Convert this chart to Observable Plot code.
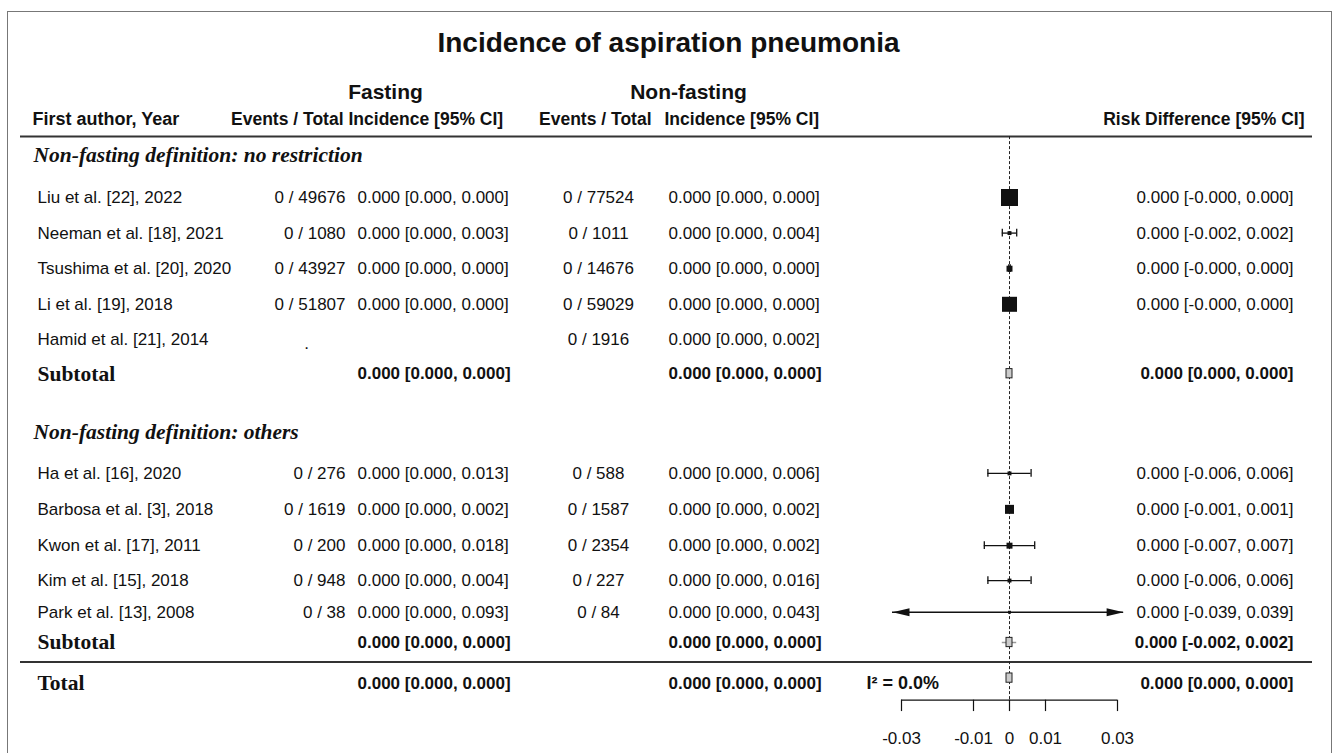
<!DOCTYPE html>
<html>
<head>
<meta charset="utf-8">
<script src="https://cdn.jsdelivr.net/npm/d3@7"></script>
<script src="https://cdn.jsdelivr.net/npm/@observablehq/plot@0.6"></script>
<style>
  html, body { margin: 0; padding: 0; background: #fff; }
  #wrap { position: relative; width: 1335px; height: 753px; overflow: hidden; }
  #frame { position: absolute; left: 7px; top: 11px; width: 1323px; height: 800px; border: 1.5px solid #777; pointer-events: none; }
</style>
</head>
<body>
<div id="wrap"><div id="frame"></div></div>
<script>
// ---------------- DATA ----------------
const title = "Incidence of aspiration pneumonia";
const arms = ["Fasting", "Non-fasting"];
const groupLabels = ["Non-fasting definition: no restriction", "Non-fasting definition: others"];
const studies = ["Liu et al. [22], 2022", "Neeman et al. [18], 2021", "Tsushima et al. [20], 2020",
  "Li et al. [19], 2018", "Hamid et al. [21], 2014", "Ha et al. [16], 2020", "Barbosa et al. [3], 2018",
  "Kwon et al. [17], 2011", "Kim et al. [15], 2018", "Park et al. [13], 2008"];
const studyGroup = [0, 0, 0, 0, 0, 1, 1, 1, 1, 1];
const fastEvents = [0, 0, 0, 0, null, 0, 0, 0, 0, 0];
const fastTotals = [49676, 1080, 43927, 51807, null, 276, 1619, 200, 948, 38];
const fastUpper  = [0.000, 0.003, 0.000, 0.000, null, 0.013, 0.002, 0.018, 0.004, 0.093];
const nonEvents  = [0, 0, 0, 0, 0, 0, 0, 0, 0, 0];
const nonTotals  = [77524, 1011, 14676, 59029, 1916, 588, 1587, 2354, 227, 84];
const nonUpper   = [0.000, 0.004, 0.000, 0.000, 0.002, 0.006, 0.002, 0.002, 0.016, 0.043];
const rdEst      = [0, 0, 0, 0, null, 0, 0, 0, 0, 0];
const rdLower    = [-0.0002, -0.002, -0.0002, -0.0002, null, -0.006, -0.001, -0.007, -0.006, -0.039];
const rdUpper    = [0.0002, 0.002, 0.0002, 0.0002, null, 0.006, 0.001, 0.007, 0.006, 0.039];
const weights    = [30, 1.6, 3.7, 23.4, null, 1.6, 8.4, 3.7, 1.6, 0.9];
// subtotals (per group) and total: [estimate, lower, upper]
const subFast = [[0, 0, 0], [0, 0, 0]];
const subNon  = [[0, 0, 0], [0, 0, 0]];
const subRD   = [[0, 0, 0], [0, -0.002, 0.002]];
const totFast = [0, 0, 0];
const totNon  = [0, 0, 0];
const totRD   = [0, 0, 0];
const i2 = 0.0;
const axisTicks = [-0.03, -0.01, 0, 0.01, 0.03];
const xLimits = [-0.0325, 0.0317];   // plotting limits (arrows beyond)

// ---------------- LAYOUT (row units) ----------------
const L = {
  title: -4.35, arms: -2.95, header: -2.2, headerRule: -1.71,
  groupLabel: [-1.2, 6.6],
  studies: [0, 1, 2, 3, 4, 7.75, 8.76, 9.78, 10.76, 11.65],
  subtotal: [4.95, 12.5], totalRule: 13.05, total: 13.65, totalMark: 13.5, axis: 14.12, axisLabel: 15.2
};
const ML = 20;                       // left margin (frame left)
const col = px => px - ML;           // column offsets from frame left
const C = { label: 37, fEv: 345, fInc: 357, nEv: 598, nInc: 668, rd: 1293, i2: 866, arm: [385, 688] };

const f3 = v => (v < 0 ? "-" : "") + Math.abs(v).toFixed(3);
const ci = (e, l, u) => `${f3(e)} [${f3(l)}, ${f3(u)}]`;

const rows = studies.map((s, i) => ({
  label: s, row: L.studies[i],
  fEv: fastTotals[i] == null ? null : `${fastEvents[i]} / ${fastTotals[i]}`,
  fInc: fastUpper[i] == null ? null : ci(0, 0, fastUpper[i]),
  nEv: `${nonEvents[i]} / ${nonTotals[i]}`,
  nInc: ci(0, 0, nonUpper[i]),
  est: rdEst[i], lo: rdLower[i], hi: rdUpper[i], w: weights[i],
  rd: rdEst[i] == null ? null : ci(rdEst[i], rdLower[i], rdUpper[i])
}));
const fr = rows.filter(d => d.est != null);
const summaries = [
  { label: "Subtotal", row: L.subtotal[0], mark: L.subtotal[0], f: subFast[0], n: subNon[0], r: subRD[0] },
  { label: "Subtotal", row: L.subtotal[1], mark: L.subtotal[1], f: subFast[1], n: subNon[1], r: subRD[1] },
  { label: "Total", row: L.total, mark: L.totalMark, f: totFast, n: totNon, r: totRD }
];

const serif = "'Liberation Serif', 'Times New Roman', serif";
const T = (data, o) => Plot.text(data, { frameAnchor: "left", lineAnchor: "middle", ...o });

const arrowRight = { draw(ctx) { ctx.moveTo(0, 0); ctx.lineTo(-17, -4); ctx.lineTo(-17, 4); ctx.closePath(); } };

const chart = Plot.plot({
  width: 1335, height: 753,
  marginLeft: ML, marginRight: 23, marginTop: 0, marginBottom: 0,
  x: { domain: [-0.03, 0.03], range: [901, 1117], axis: null },
  y: { domain: [0, 1], range: [197, 232.6], axis: null },
  r: { type: "sqrt", domain: [0, 30], range: [0, 9.6] },
  style: { fontFamily: "'Liberation Sans', Arial, sans-serif", fontSize: "17px", color: "#111", background: "transparent" },
  marks: [
    // titles & headers
    T([{ y: L.title, t: title }], { y: "y", text: "t", dx: col(668), textAnchor: "middle", fontSize: 28, fontWeight: "bold" }),
    ...arms.map((a, i) => T([{ a, y: L.arms }], { y: "y", text: "a", dx: col(C.arm[i]), textAnchor: "middle", fontSize: 21, fontWeight: "bold" })),
    T([{ y: L.header }], { y: "y", text: () => "First author, Year", dx: col(C.label - 5), textAnchor: "start", fontWeight: "bold", fontSize: 18 }),
    T([{ y: L.header }], { y: "y", text: () => "Events / Total", dx: col(C.fEv - 2), textAnchor: "end", fontWeight: "bold", fontSize: 17.5 }),
    T([{ y: L.header }], { y: "y", text: () => "Incidence [95% CI]", dx: col(C.fInc - 9), textAnchor: "start", fontWeight: "bold", fontSize: 17.5 }),
    T([{ y: L.header }], { y: "y", text: () => "Events / Total", dx: col(651), textAnchor: "end", fontWeight: "bold", fontSize: 17.5 }),
    T([{ y: L.header }], { y: "y", text: () => "Incidence [95% CI]", dx: col(C.nInc - 4), textAnchor: "start", fontWeight: "bold", fontSize: 17.5 }),
    T([{ y: L.header }], { y: "y", text: () => "Risk Difference [95% CI]", dx: col(1304), textAnchor: "end", fontWeight: "bold", fontSize: 17.5 }),
    Plot.ruleY([L.headerRule, L.totalRule], { stroke: "#333", strokeWidth: 2 }),
    // group labels
    T(groupLabels.map((g, i) => ({ g, y: L.groupLabel[i] })), { y: "y", text: "g", dx: col(33), textAnchor: "start", fontFamily: serif, fontStyle: "italic", fontWeight: "bold", fontSize: 21.5 }),
    // study rows
    T(rows, { y: "row", text: "label", dx: col(C.label), textAnchor: "start" }),
    T(rows, { y: "row", text: "fEv", dx: col(C.fEv), textAnchor: "end" }),
    T(rows.filter(d => d.fEv == null), { y: "row", text: () => ".", dx: col(306), dy: 4, textAnchor: "middle" }),
    T(rows, { y: "row", text: "fInc", dx: col(C.fInc), textAnchor: "start" }),
    T(rows, { y: "row", text: "nEv", dx: col(C.nEv), textAnchor: "middle" }),
    T(rows, { y: "row", text: "nInc", dx: col(C.nInc), textAnchor: "start" }),
    T(rows, { y: "row", text: "rd", dx: col(C.rd), textAnchor: "end" }),
    // summary rows
    T(summaries, { y: "row", text: "label", dx: col(C.label), textAnchor: "start", fontFamily: serif, fontWeight: "bold", fontSize: 21.5 }),
    T(summaries, { y: "row", text: d => ci(...d.f), dx: col(C.fInc), textAnchor: "start", fontWeight: "bold" }),
    T(summaries, { y: "row", text: d => ci(...d.n), dx: col(C.nInc), textAnchor: "start", fontWeight: "bold" }),
    T(summaries, { y: "row", text: d => ci(...d.r), dx: col(C.rd), textAnchor: "end", fontWeight: "bold" }),
    T([{ y: L.total }], { y: "y", text: () => `I\u00b2 = ${i2.toFixed(1)}%`, dx: col(C.i2), textAnchor: "start", fontWeight: "bold", fontSize: 18 }),
    // reference line
    Plot.ruleX([0], { y1: L.headerRule, y2: L.axis + 0.3, stroke: "#222", strokeDasharray: "3,2", strokeWidth: 1 }),
    // CIs
    Plot.ruleY(fr, { y: "row", x1: d => Math.max(d.lo, xLimits[0]), x2: d => Math.min(d.hi, xLimits[1]), stroke: "#111", strokeWidth: 1.3 }),
    Plot.ruleX(fr.filter(d => d.lo > xLimits[0]), { x: "lo", y1: d => d.row - 0.11, y2: d => d.row + 0.11, stroke: "#111", strokeWidth: 1.3 }),
    Plot.ruleX(fr.filter(d => d.hi < xLimits[1]), { x: "hi", y1: d => d.row - 0.11, y2: d => d.row + 0.11, stroke: "#111", strokeWidth: 1.3 }),
    Plot.dot(fr.filter(d => d.hi > xLimits[1]), { x: () => xLimits[1], y: "row", symbol: arrowRight, r: 5, fill: "#111", stroke: null }),
    Plot.dot(fr.filter(d => d.lo < xLimits[0]), { x: () => xLimits[0], y: "row", symbol: arrowRight, r: 5, rotate: 180, fill: "#111", stroke: null }),
    Plot.dot(fr, { x: "est", y: "row", r: "w", symbol: "square", fill: "#111", stroke: null }),
    // summary estimates
    Plot.ruleY(summaries.filter(d => d.r[2] > d.r[1]), { y: "mark", x1: d => d.r[1], x2: d => d.r[2], stroke: "#999", strokeWidth: 1.5 }),
    Plot.rect(summaries, { x1: d => d.r[0], x2: d => d.r[0], y1: d => d.mark - 0.13, y2: d => d.mark + 0.13, insetLeft: -3, insetRight: -3, fill: "#ccc", stroke: "#222", strokeWidth: 1 }),
    // axis
    Plot.ruleY([L.axis], { x1: axisTicks[0], x2: axisTicks[axisTicks.length - 1], stroke: "#111", strokeWidth: 1.2 }),
    Plot.ruleX(axisTicks, { x: d => d, y1: L.axis, y2: L.axis + 0.32, stroke: "#111", strokeWidth: 1.2 }),
    Plot.text(axisTicks, { x: d => d, y: () => L.axisLabel, text: d => String(d), fontSize: 17 })
  ]
});
document.getElementById("wrap").appendChild(chart);
</script>
</body>
</html>
